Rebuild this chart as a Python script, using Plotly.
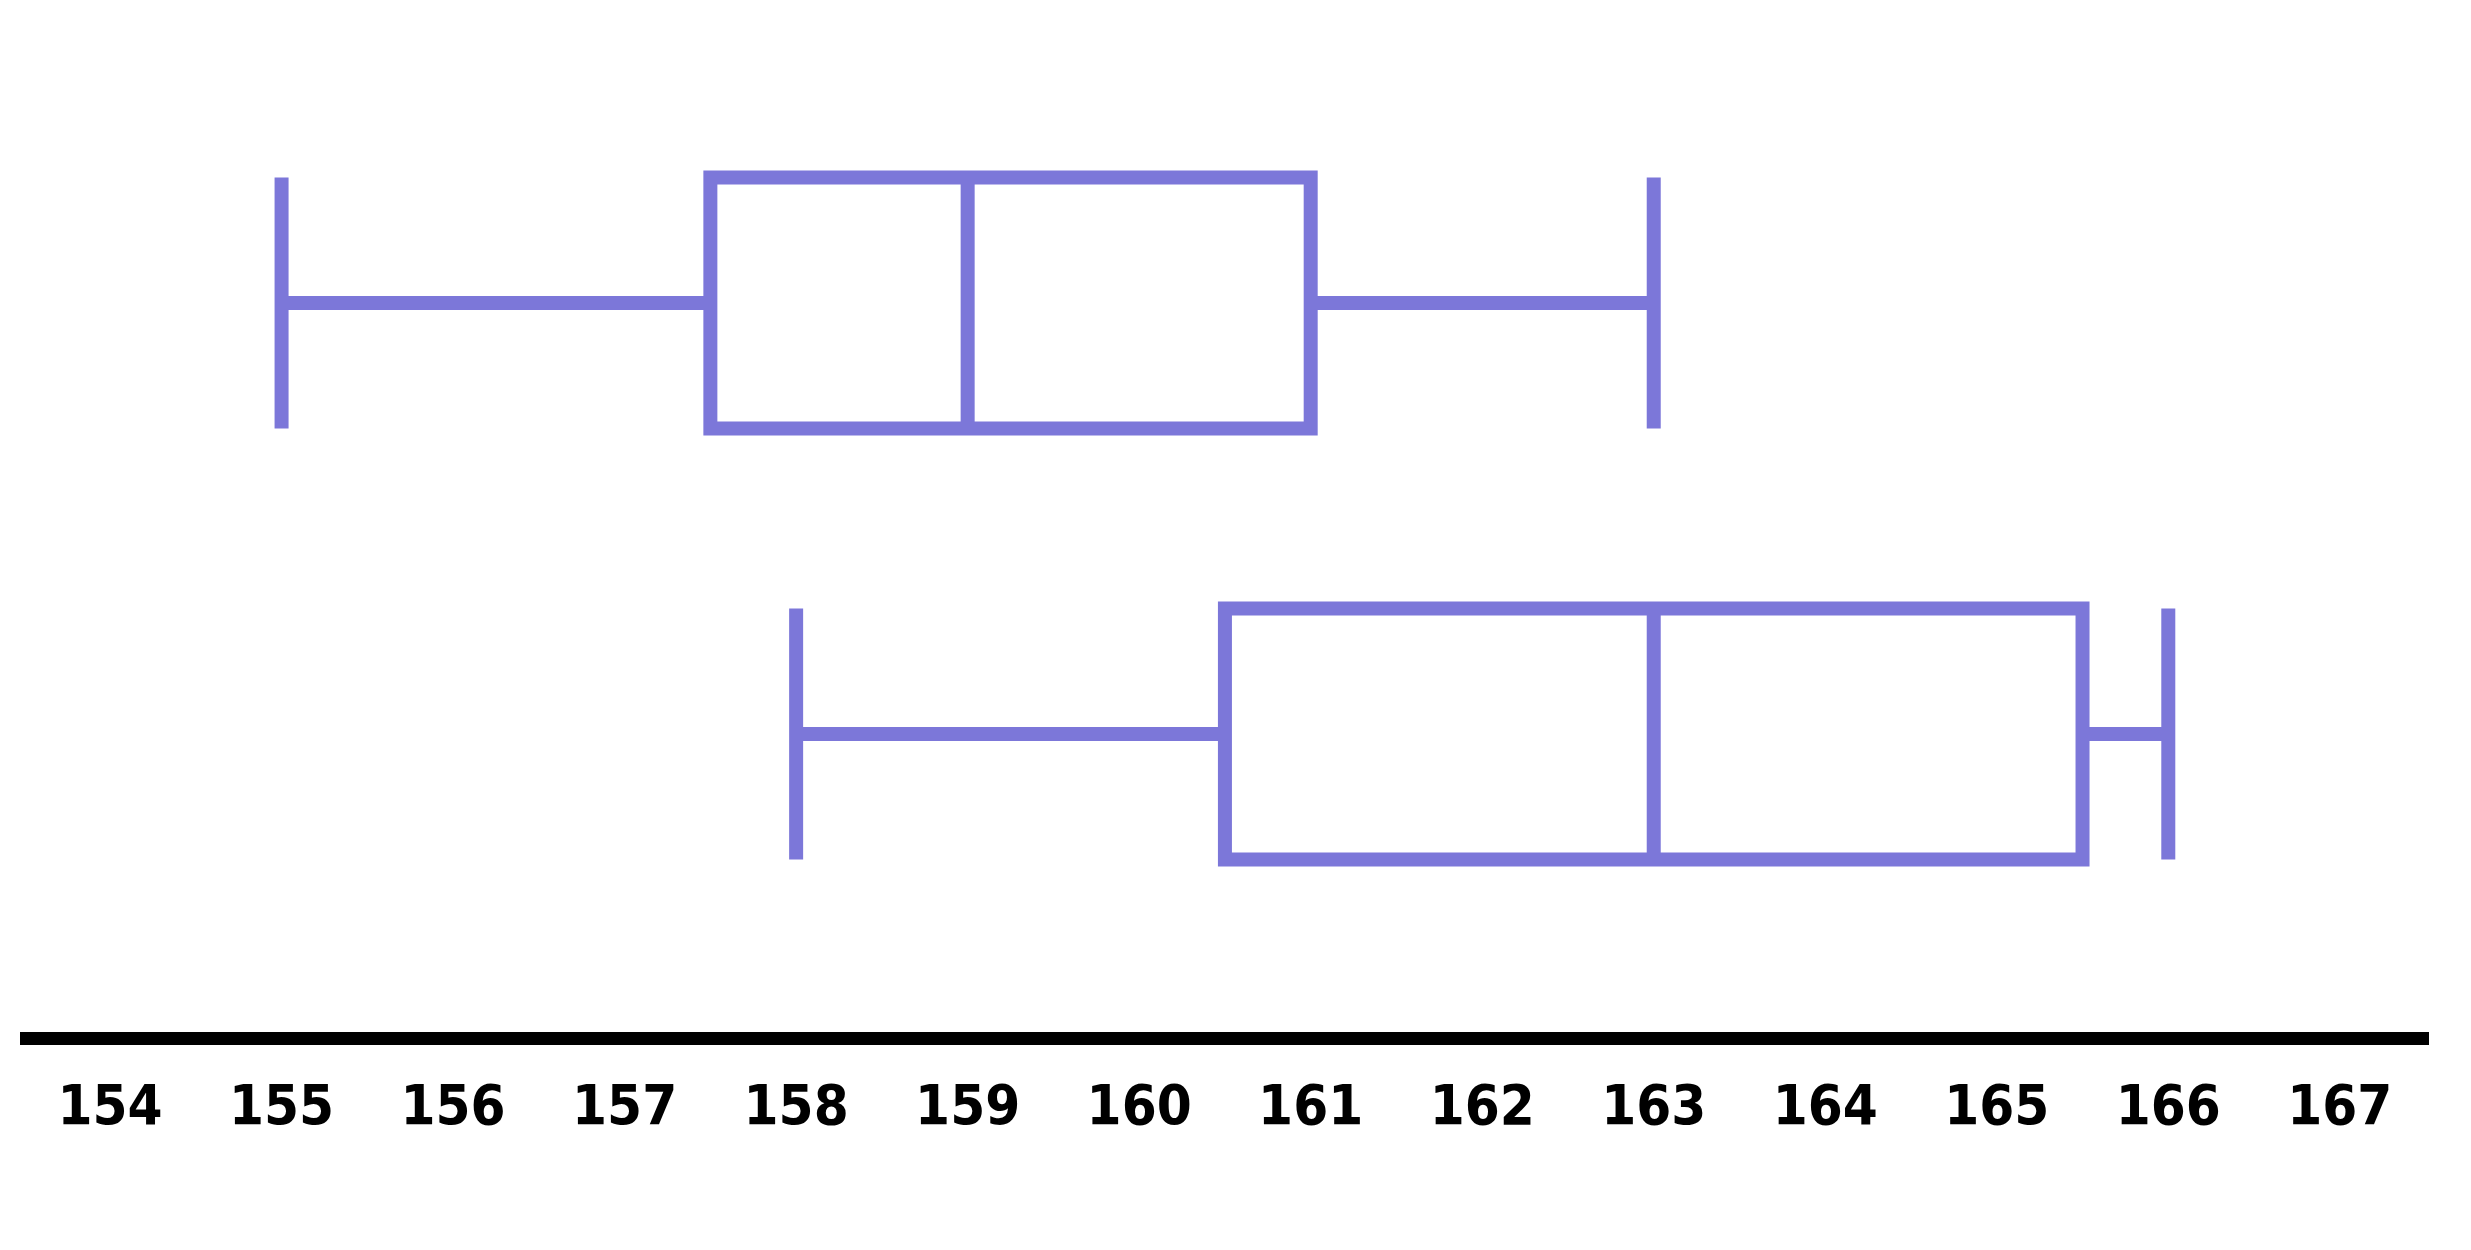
import plotly.graph_objects as go

# data
groups = ["A", "B"]
positions = [0, 1]
lower_whisker = [155, 158]
q1_values = [157.5, 160.5]
median_values = [159, 163]
q3_values = [161, 165.5]
upper_whisker = [163, 166]
tick_values = list(range(154, 168))
tick_labels = [str(v) for v in tick_values]

box_color = "#7c77d9"

fig = go.Figure()
for i, g in enumerate(groups):
    fig.add_trace(go.Box(
        name=g,
        y=[positions[i]],
        q1=[q1_values[i]],
        median=[median_values[i]],
        q3=[q3_values[i]],
        lowerfence=[lower_whisker[i]],
        upperfence=[upper_whisker[i]],
        orientation="h",
        line=dict(color=box_color, width=14),
        fillcolor="rgba(0,0,0,0)",
        whiskerwidth=1,
        boxpoints=False,
        hoverinfo="skip",
        showlegend=False,
    ))

fig.update_layout(
    width=2471,
    height=1250,
    margin=dict(l=12, r=50, t=47, b=226),
    paper_bgcolor="white",
    plot_bgcolor="white",
    boxmode="overlay",
    boxgap=0.418,
    boxgroupgap=0,
    xaxis=dict(
        range=[153.475, 167.52],
        tickvals=tick_values,
        ticktext=tick_labels,
        showline=True,
        linecolor="black",
        linewidth=13,
        showgrid=False,
        zeroline=False,
        ticks="",
        ticklabelstandoff=12,
        tickfont=dict(family="DejaVu Sans Condensed, DejaVu Sans", size=56, color="black", weight="bold"),
    ),
    yaxis=dict(
        range=[1.691, -0.575],
        showline=False,
        showgrid=False,
        zeroline=False,
        showticklabels=False,
        ticks="",
    ),
)

fig.write_html("out.html")
